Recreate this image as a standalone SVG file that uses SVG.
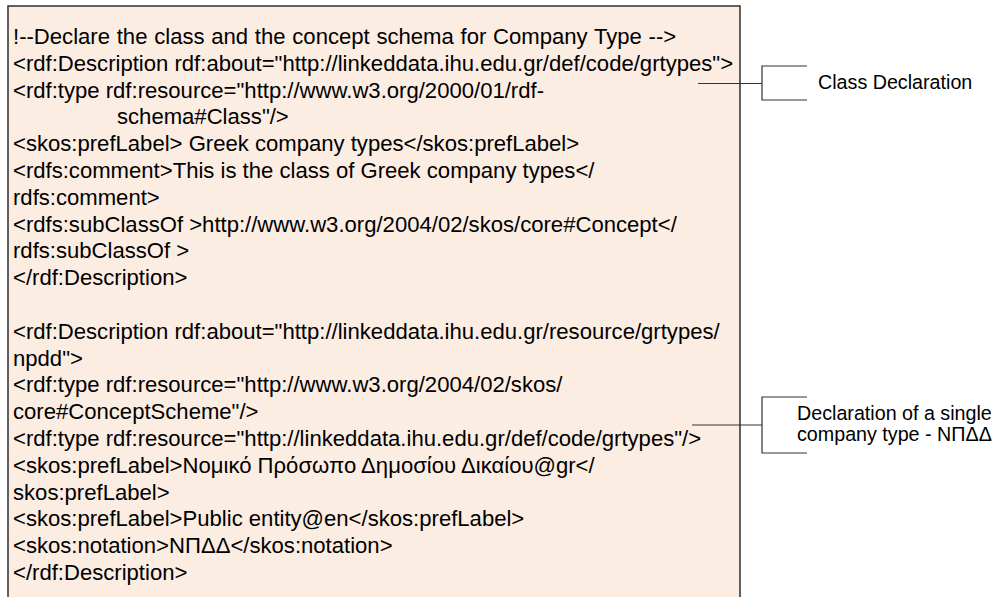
<svg xmlns="http://www.w3.org/2000/svg" width="996" height="597" viewBox="0 0 996 597">
  <style>
    .code { font-family: "Liberation Sans", Arial, "DejaVu Sans", sans-serif; font-size: 22.1px; fill: #000; }
    .note { font-family: "Liberation Sans", Arial, "DejaVu Sans", sans-serif; font-size: 19.7px; fill: #000; }
    .lead { fill: none; stroke: #333; stroke-width: 1.2; }
    .panel { fill: #FCEDE3; stroke: #2e2e2e; stroke-width: 1.5; }
  </style>

  <rect width="996" height="597" fill="#fff"/>

  <!-- RDF/SKOS listing -->
  <g id="code-listing">
    <rect class="panel" x="8" y="6" width="732" height="600"/>
    <g class="code" xml:space="preserve">
      <text x="13" y="44" word-spacing="0.6">!--Declare the class and the concept schema for Company Type --&gt;</text>
      <text x="13" y="70.8">&lt;rdf:Description rdf:about="http://linkeddata.ihu.edu.gr/def/code/grtypes"&gt;</text>
      <text x="13" y="97.6">&lt;rdf:type rdf:resource="http://www.w3.org/2000/01/rdf-</text>
      <text x="117" y="124.4">schema#Class"/&gt;</text>
      <text x="13" y="151.2">&lt;skos:prefLabel&gt; Greek company types&lt;/skos:prefLabel&gt;</text>
      <text x="13" y="178">&lt;rdfs:comment&gt;This is the class of Greek company types&lt;/</text>
      <text x="13" y="204.8">rdfs:comment&gt;</text>
      <text x="13" y="231.6">&lt;rdfs:subClassOf &gt;http://www.w3.org/2004/02/skos/core#Concept&lt;/</text>
      <text x="13" y="258.4">rdfs:subClassOf &gt;</text>
      <text x="13" y="285.2">&lt;/rdf:Description&gt;</text>
      <text x="13" y="338.8">&lt;rdf:Description rdf:about="http://linkeddata.ihu.edu.gr/resource/grtypes/</text>
      <text x="13" y="365.6">npdd"&gt;</text>
      <text x="13" y="392.4">&lt;rdf:type rdf:resource="http://www.w3.org/2004/02/skos/</text>
      <text x="13" y="419.2">core#ConceptScheme"/&gt;</text>
      <text x="13" y="446">&lt;rdf:type rdf:resource="http://linkeddata.ihu.edu.gr/def/code/grtypes"/&gt;</text>
      <text x="13" y="472.8">&lt;skos:prefLabel&gt;Νομικό Πρόσωπο Δημοσίου Δικαίου@gr&lt;/</text>
      <text x="13" y="499.6">skos:prefLabel&gt;</text>
      <text x="13" y="526.4">&lt;skos:prefLabel&gt;Public entity@en&lt;/skos:prefLabel&gt;</text>
      <text x="13" y="553.2">&lt;skos:notation&gt;ΝΠΔΔ&lt;/skos:notation&gt;</text>
      <text x="13" y="580">&lt;/rdf:Description&gt;</text>
    </g>
  </g>

  <!-- Annotation labels -->
  <g id="note-class">
    <text class="note" x="818" y="89">Class Declaration</text>
  </g>
  <g id="note-instance">
    <text class="note" x="797" y="420">Declaration of a single</text>
    <text class="note" x="797" y="441">company type - ΝΠΔΔ</text>
  </g>

  <!-- Leader lines and brackets -->
  <g id="connectors">
    <path class="lead" d="M698,83.5 H762"/>
    <path class="lead" d="M807,66 H762 V100 H807"/>
    <path class="lead" d="M692,425 H762"/>
    <path class="lead" d="M807,397 H762 V453 H807"/>
  </g>
</svg>
